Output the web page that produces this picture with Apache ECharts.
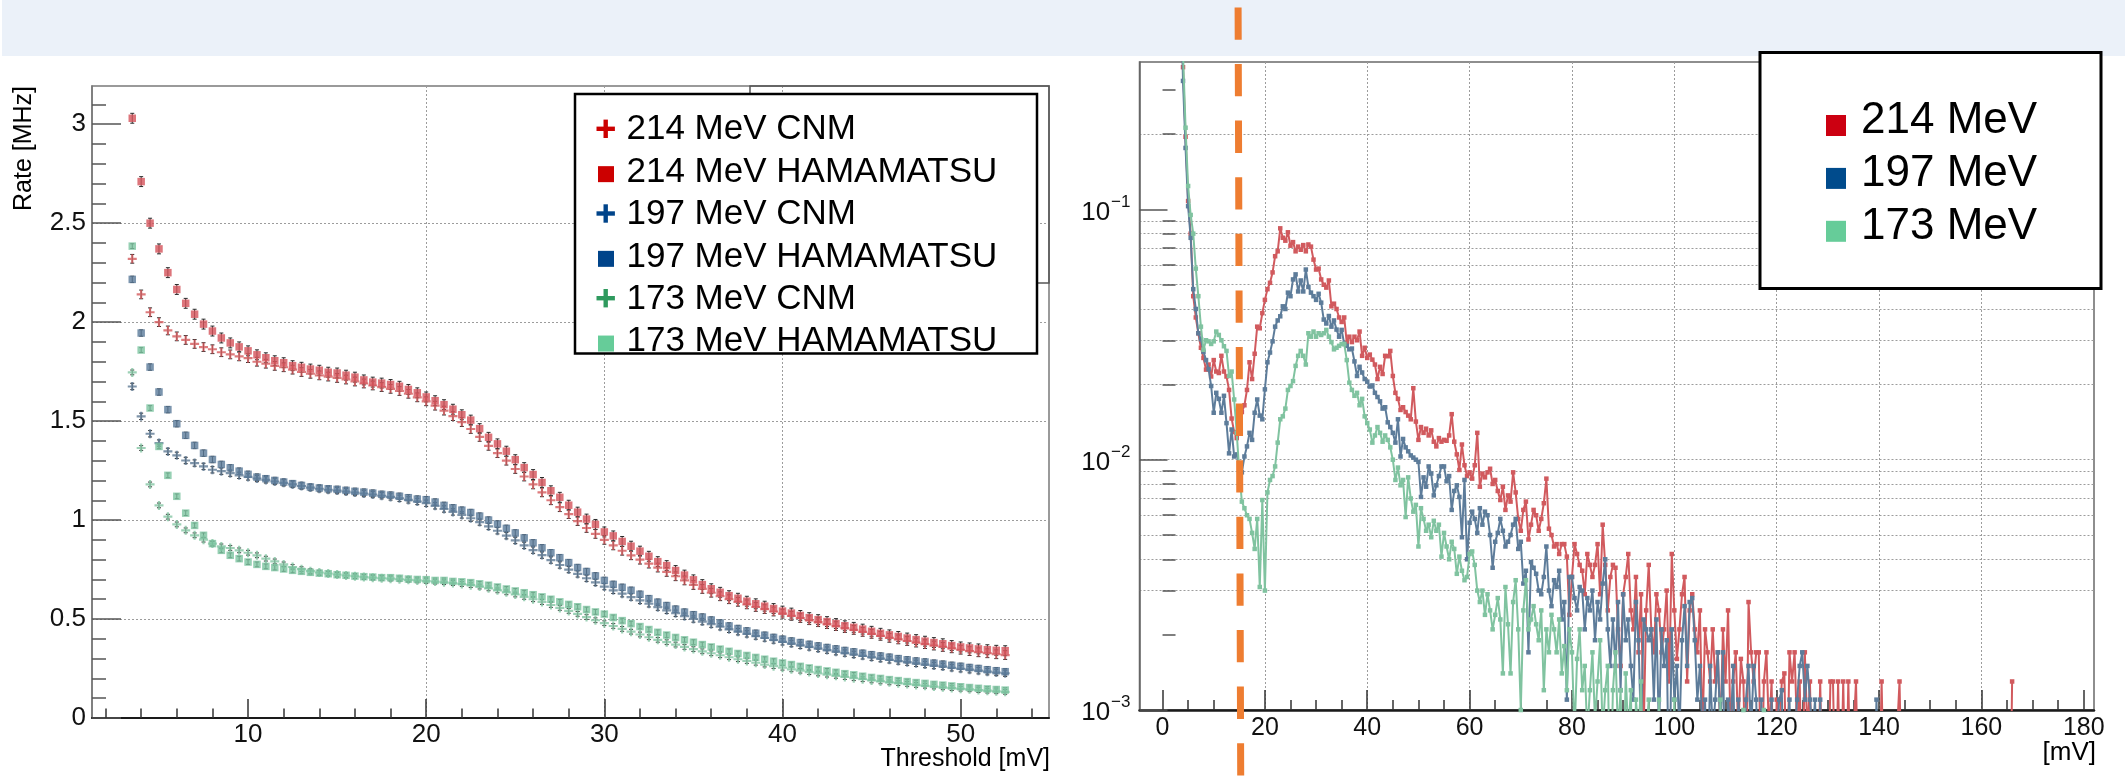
<!DOCTYPE html>
<html>
<head>
<meta charset="utf-8">
<script src="https://cdn.jsdelivr.net/npm/echarts@6/dist/echarts.min.js"></script>
<style>
  html, body { margin: 0; padding: 0; background: #ffffff; }
  #c { width: 2125px; height: 776px; }
</style>
</head>
<body>
<div id="c"></div>
<script>
// ---------- Left panel: counting rate vs. discriminator threshold ----------
const thresholds = [
  3.5, 4, 4.5, 5, 5.5, 6, 6.5, 7, 7.5, 8,
  8.5, 9, 9.5, 10, 10.5, 11, 11.5, 12, 12.5, 13,
  13.5, 14, 14.5, 15, 15.5, 16, 16.5, 17, 17.5, 18,
  18.5, 19, 19.5, 20, 20.5, 21, 21.5, 22, 22.5, 23,
  23.5, 24, 24.5, 25, 25.5, 26, 26.5, 27, 27.5, 28,
  28.5, 29, 29.5, 30, 30.5, 31, 31.5, 32, 32.5, 33,
  33.5, 34, 34.5, 35, 35.5, 36, 36.5, 37, 37.5, 38,
  38.5, 39, 39.5, 40, 40.5, 41, 41.5, 42, 42.5, 43,
  43.5, 44, 44.5, 45, 45.5, 46, 46.5, 47, 47.5, 48,
  48.5, 49, 49.5, 50, 50.5, 51, 51.5, 52, 52.5
];

const rate214Cnm = [
  2.32, 2.14, 2.05, 2.0, 1.958, 1.928, 1.91, 1.89, 1.874, 1.863,
  1.848, 1.837, 1.827, 1.818, 1.8, 1.79, 1.779, 1.772, 1.76, 1.748,
  1.739, 1.731, 1.725, 1.718, 1.71, 1.7, 1.69, 1.68, 1.672, 1.663,
  1.652, 1.638, 1.62, 1.6, 1.578, 1.553, 1.525, 1.495, 1.46, 1.42,
  1.375, 1.338, 1.3, 1.258, 1.22, 1.18, 1.14, 1.1, 1.065, 1.03,
  0.995, 0.96, 0.93, 0.9, 0.872, 0.845, 0.822, 0.8, 0.78, 0.76,
  0.738, 0.716, 0.695, 0.672, 0.652, 0.633, 0.615, 0.6, 0.587, 0.574,
  0.561, 0.55, 0.538, 0.527, 0.516, 0.505, 0.494, 0.484, 0.474, 0.464,
  0.454, 0.445, 0.435, 0.425, 0.415, 0.405, 0.397, 0.389, 0.381, 0.373,
  0.366, 0.359, 0.352, 0.345, 0.338, 0.332, 0.327, 0.322, 0.318
];
const rate214Ham = [
  3.03, 2.71, 2.50, 2.37, 2.25, 2.165, 2.095, 2.04, 1.99, 1.955,
  1.92, 1.895, 1.875, 1.855, 1.835, 1.82, 1.805, 1.795, 1.78, 1.772,
  1.763, 1.757, 1.747, 1.743, 1.732, 1.722, 1.708, 1.697, 1.692, 1.685,
  1.676, 1.66, 1.643, 1.622, 1.603, 1.583, 1.56, 1.532, 1.505, 1.462,
  1.418, 1.385, 1.348, 1.305, 1.265, 1.23, 1.19, 1.148, 1.115, 1.075,
  1.04, 1.005, 0.978, 0.94, 0.92, 0.892, 0.868, 0.843, 0.817, 0.79,
  0.77, 0.745, 0.722, 0.698, 0.674, 0.653, 0.635, 0.618, 0.605, 0.59,
  0.577, 0.565, 0.553, 0.54, 0.53, 0.518, 0.507, 0.497, 0.487, 0.477,
  0.466, 0.458, 0.449, 0.438, 0.428, 0.42, 0.412, 0.404, 0.396, 0.388,
  0.381, 0.375, 0.366, 0.359, 0.354, 0.349, 0.345, 0.342, 0.34
];
const rate197Cnm = [
  1.675, 1.524, 1.436, 1.389, 1.347, 1.327, 1.301, 1.288, 1.271, 1.254,
  1.247, 1.237, 1.226, 1.218, 1.21, 1.203, 1.195, 1.188, 1.18, 1.172,
  1.164, 1.158, 1.153, 1.149, 1.144, 1.139, 1.134, 1.129, 1.123, 1.117,
  1.11, 1.102, 1.094, 1.085, 1.072, 1.056, 1.041, 1.026, 1.009, 0.99,
  0.968, 0.946, 0.921, 0.897, 0.872, 0.848, 0.823, 0.798, 0.773, 0.75,
  0.728, 0.706, 0.685, 0.664, 0.645, 0.628, 0.611, 0.594, 0.577, 0.56,
  0.544, 0.529, 0.514, 0.5, 0.487, 0.474, 0.461, 0.448, 0.436, 0.425,
  0.414, 0.404, 0.394, 0.385, 0.376, 0.367, 0.359, 0.351, 0.343, 0.335,
  0.328, 0.321, 0.314, 0.307, 0.3, 0.294, 0.288, 0.282, 0.276, 0.27,
  0.265, 0.26, 0.254, 0.249, 0.244, 0.239, 0.234, 0.23, 0.226
];
const rate197Ham = [
  2.216, 1.945, 1.773, 1.647, 1.558, 1.487, 1.428, 1.377, 1.338, 1.306,
  1.281, 1.264, 1.247, 1.231, 1.217, 1.209, 1.2, 1.192, 1.184, 1.175,
  1.167, 1.162, 1.158, 1.155, 1.15, 1.145, 1.141, 1.136, 1.13, 1.126,
  1.12, 1.113, 1.106, 1.103, 1.091, 1.074, 1.062, 1.05, 1.038, 1.02,
  1.0, 0.98, 0.958, 0.935, 0.91, 0.885, 0.86, 0.835, 0.81, 0.785,
  0.76, 0.74, 0.718, 0.695, 0.675, 0.66, 0.645, 0.625, 0.603, 0.585,
  0.568, 0.55, 0.535, 0.522, 0.51, 0.495, 0.48, 0.465, 0.452, 0.44,
  0.428, 0.418, 0.407, 0.398, 0.389, 0.381, 0.372, 0.364, 0.356, 0.349,
  0.341, 0.334, 0.327, 0.32, 0.313, 0.307, 0.3, 0.294, 0.288, 0.283,
  0.277, 0.272, 0.266, 0.261, 0.255, 0.25, 0.244, 0.239, 0.234
];
const rate173Cnm = [
  1.746, 1.364, 1.18, 1.074, 1.017, 0.978, 0.948, 0.923, 0.901, 0.881,
  0.867, 0.859, 0.847, 0.835, 0.822, 0.805, 0.791, 0.776, 0.763, 0.752,
  0.742, 0.735, 0.73, 0.725, 0.72, 0.716, 0.712, 0.709, 0.706, 0.704,
  0.701, 0.698, 0.695, 0.692, 0.689, 0.686, 0.682, 0.677, 0.671, 0.664,
  0.655, 0.645, 0.635, 0.624, 0.612, 0.6, 0.586, 0.571, 0.556, 0.541,
  0.526, 0.51, 0.494, 0.479, 0.465, 0.45, 0.436, 0.422, 0.408, 0.395,
  0.383, 0.371, 0.359, 0.348, 0.337, 0.327, 0.317, 0.307, 0.297, 0.288,
  0.279, 0.27, 0.262, 0.254, 0.246, 0.239, 0.232, 0.225, 0.219, 0.213,
  0.207, 0.201, 0.196, 0.19, 0.185, 0.18, 0.176, 0.172, 0.167, 0.163,
  0.159, 0.155, 0.151, 0.148, 0.145, 0.141, 0.138, 0.135, 0.132
];
const rate173Ham = [
  2.384, 1.859, 1.566, 1.372, 1.226, 1.12, 1.035, 0.973, 0.923, 0.881,
  0.847, 0.822, 0.805, 0.788, 0.776, 0.766, 0.76, 0.753, 0.746, 0.741,
  0.736, 0.732, 0.729, 0.724, 0.721, 0.717, 0.714, 0.712, 0.709, 0.709,
  0.706, 0.702, 0.7, 0.699, 0.695, 0.695, 0.69, 0.688, 0.684, 0.678,
  0.671, 0.662, 0.652, 0.642, 0.633, 0.623, 0.612, 0.6, 0.587, 0.574,
  0.562, 0.548, 0.536, 0.525, 0.508, 0.492, 0.477, 0.462, 0.447, 0.433,
  0.419, 0.407, 0.395, 0.383, 0.371, 0.359, 0.348, 0.337, 0.326, 0.316,
  0.306, 0.297, 0.287, 0.278, 0.27, 0.261, 0.253, 0.245, 0.238, 0.231,
  0.224, 0.218, 0.211, 0.205, 0.2, 0.194, 0.189, 0.184, 0.179, 0.175,
  0.17, 0.166, 0.162, 0.158, 0.154, 0.15, 0.147, 0.144, 0.141
];

// statistical uncertainty of each rate point [MHz]
const err214Cnm = 0.022, err214Ham = 0.025;
const err197Cnm = 0.016, err197Ham = 0.016;
const err173Cnm = 0.012, err173Ham = 0.012;

const rateTicks = [0, 0.5, 1, 1.5, 2, 2.5, 3];
const rateMinorTicks = [0.1, 0.2, 0.3, 0.4, 0.6, 0.7, 0.8, 0.9, 1.1, 1.2, 1.3, 1.4,
  1.6, 1.7, 1.8, 1.9, 2.1, 2.2, 2.3, 2.4, 2.6, 2.7, 2.8, 2.9, 3.1];
const thresholdTicks = [10, 20, 30, 40, 50];
const thresholdMinorTicks = [2, 4, 6, 8, 12, 14, 16, 18, 22, 24, 26, 28, 32, 34, 36, 38,
  42, 44, 46, 48, 52, 54];

// ---------- Right panel: normalised pulse-amplitude spectra (0.5 mV bins) ----------
const binStart = 3.5, binWidth = 0.5;

const spec214 = [
  0.9, 0.37, 0.195, 0.108, 0.08, 0.045, 0.037, 0.032, 0.028, 0.0255,
  0.0229, 0.024, 0.0215, 0.025, 0.0225, 0.0222, 0.026, 0.0225, 0.0215, 0.019,
  0.0146, 0.0129, 0.0122, 0.0138, 0.0155, 0.0165, 0.019, 0.0245, 0.021, 0.0265,
  0.034, 0.0335, 0.0385, 0.0435, 0.048, 0.0509, 0.056, 0.065, 0.068, 0.084,
  0.077, 0.075, 0.081, 0.0716, 0.074, 0.068, 0.071, 0.069, 0.072, 0.068,
  0.0724, 0.071, 0.063, 0.0575, 0.058, 0.0525, 0.05, 0.0487, 0.052, 0.041,
  0.042, 0.04, 0.037, 0.0355, 0.037, 0.0293, 0.031, 0.0295, 0.031, 0.03,
  0.0325, 0.026, 0.028, 0.0255, 0.0263, 0.0251, 0.024, 0.021, 0.0235, 0.022,
  0.026, 0.0259, 0.0272, 0.0216, 0.0185, 0.0175, 0.0158, 0.0162, 0.0155, 0.015,
  0.0145, 0.0193, 0.0142, 0.012, 0.0135, 0.0128, 0.0133, 0.0125, 0.0131, 0.0118,
  0.0113, 0.0122, 0.0118, 0.012, 0.0119, 0.0125, 0.0152, 0.0118, 0.0105, 0.0091,
  0.0115, 0.0095, 0.0086, 0.0089, 0.0084, 0.0095, 0.0128, 0.0078, 0.0088, 0.0085,
  0.0089, 0.0092, 0.008, 0.0083, 0.0075, 0.0069, 0.0078, 0.0063, 0.0072, 0.0068,
  0.0089, 0.0074, 0.0058, 0.0052, 0.0063, 0.0068, 0.0048, 0.0055, 0.0063, 0.006,
  0.0052, 0.0058, 0.0067, 0.0084, 0.0053, 0.005, 0.0045, 0.0046, 0.0042, 0.0046,
  0.0046, 0.0041, 0.0024, 0.0034, 0.0046, 0.0042, 0.0038, 0.0036, 0.0029, 0.0042,
  0.0038, 0.0034, 0.0038, 0.0046, 0.0029, 0.0055, 0.0038, 0.0025, 0.0034, 0.0038,
  0.0037, 0.0021, 0.0015, 0.0029, 0.0034, 0.0042, 0.0025, 0.0021, 0.0034, 0.0017,
  0.0029, 0.0008, 0.0025, 0.0038, 0.0021, 0.0017, 0.0029, 0.0025, 0.0017, 0.0021,
  0.003, 0.0013, 0.0042, 0.0025, 0.0016, 0.0021, 0.0029, 0.0034, 0.0013, 0.0025,
  0.0029, 0.0021, 0.0017, 0.0025, 0.0008, 0.0021, 0.0017, 0.0013, 0.0021, 0.0013,
  0.0017, 0.0008, 0.0021, 0.0013, 0.0025, 0.0008, 0.0013, 0.0017, 0.0008, 0.0016,
  0.0013, 0.0004, 0.0027, 0.0017, 0.0013, 0.0017, 0.0017, 0.0004, 0.0013, 0.0017,
  0.0008, 0.0013, 0.0004, 0.0011, 0.0008, 0.0013, 0.0014, 0.0004, 0.0017, 0.0013,
  0.0017, 0.0008, 0.0013, 0.0004, 0.0017, 0.0008, 0.0013, 0.0004, 0.0008, 0.0004,
  0.0013, 0.0004, 0.0008, 0.0004, 0.0013, 0.0013, 0.0004, 0.0013, 0.0004, 0.0013,
  0.0004, 0.0013, 0.0004, 0.0008, 0.0013, 0.0004, 0.0008, 0.0004, 0.0004, 0.0008,
  0.0004, 0.0004, 0.0008, 0.0004, 0.0013, 0.0004, 0.0004, 0.0008, 0.0004, 0.0004,
  0.0008, 0.0013, 0.0004, 0.0004, 0.0002, 0.0002, 0.0004, 0.0002, 0.0002, 0.0002,
  0.0002, 0.0002, 0.0002, 0.0002, 0.0002, 0.0002, 0.0002, 0.0002, 0.0002, 0.0002,
  0.0002, 0.0004, 0.0002, 0.0002, 0.0002, 0.0002, 0.0002, 0.0004, 0.0002, 0.0002,
  0.0002, 0.0002, 0.0002, 0.0002, 0.0002, 0.0002, 0.0002, 0.0002, 0.0002, 0.0002,
  0.0002, 0.0002, 0.0004, 0.0002, 0.0002, 0.0013
];
const spec197 = [
  0.9, 0.326, 0.176, 0.103, 0.077, 0.048, 0.04, 0.032, 0.0303, 0.027,
  0.025, 0.023, 0.0197, 0.0154, 0.0185, 0.0175, 0.0154, 0.018, 0.014, 0.0106,
  0.0132, 0.0103, 0.0105, 0.0094, 0.0089, 0.0103, 0.0113, 0.0128, 0.012, 0.0154,
  0.0174, 0.015, 0.0145, 0.0191, 0.0245, 0.0268, 0.0297, 0.034, 0.036, 0.0374,
  0.041, 0.04, 0.0465, 0.045, 0.0525, 0.055, 0.047, 0.052, 0.047, 0.0575,
  0.049, 0.0465, 0.045, 0.0435, 0.046, 0.0424, 0.0363, 0.035, 0.0375, 0.034,
  0.036, 0.0331, 0.031, 0.033, 0.029, 0.0285, 0.0276, 0.0278, 0.0247, 0.0216,
  0.0235, 0.0223, 0.021, 0.0205, 0.0196, 0.0198, 0.0185, 0.0178, 0.0171, 0.016,
  0.0162, 0.0141, 0.0135, 0.0128, 0.0117, 0.0145, 0.0103, 0.0121, 0.0112, 0.0108,
  0.0104, 0.0102, 0.01, 0.0098, 0.0071, 0.0085, 0.0078, 0.0094, 0.0088, 0.0072,
  0.0079, 0.0086, 0.0094, 0.0094, 0.0082, 0.0086, 0.0063, 0.0075, 0.0079, 0.0071,
  0.0049, 0.0083, 0.004, 0.0056, 0.0062, 0.0058, 0.0051, 0.0064, 0.0055, 0.0062,
  0.006, 0.005, 0.0037, 0.0047, 0.0051, 0.0058, 0.0052, 0.0045, 0.0047, 0.005,
  0.0055, 0.0058, 0.0044, 0.0047, 0.0032, 0.0036, 0.0017, 0.0039, 0.0037, 0.0035,
  0.003, 0.0029, 0.0034, 0.0045, 0.003, 0.0026, 0.0033, 0.0031, 0.0036, 0.0023,
  0.0027, 0.0011, 0.0034, 0.0034, 0.0028, 0.0025, 0.0031, 0.003, 0.0021, 0.0028,
  0.0025, 0.003, 0.0019, 0.0027, 0.0023, 0.0032, 0.004, 0.0021, 0.0015, 0.0023,
  0.0015, 0.0027, 0.0012, 0.0029, 0.0019, 0.0023, 0.0015, 0.0011, 0.0027, 0.0019,
  0.0008, 0.0023, 0.0021, 0.0019, 0.0021, 0.0011, 0.0023, 0.0008, 0.0021, 0.0015,
  0.0019, 0.0004, 0.0021, 0.0011, 0.0015, 0.0008, 0.0019, 0.0026, 0.0015, 0.0027,
  0.0028, 0.0019, 0.0011, 0.0015, 0.0008, 0.0011, 0.0004, 0.0015, 0.0008, 0.0011,
  0.0017, 0.0008, 0.0017, 0.0004, 0.0011, 0.0008, 0.0015, 0.0004, 0.0011, 0.0008,
  0.0004, 0.0011, 0.0015, 0.0008, 0.0015, 0.0011, 0.0004, 0.0011, 0.0004, 0.0008,
  0.0004, 0.0011, 0.0004, 0.0008, 0.0011, 0.0012, 0.0004, 0.0008, 0.0011, 0.0004,
  0.0008, 0.0011, 0.0015, 0.0017, 0.0011, 0.0015, 0.0011, 0.0008, 0.0011, 0.0004,
  0.0011, 0.0004, 0.0002, 0.0004, 0.0002, 0.0002, 0.0004, 0.0002, 0.0002, 0.0002,
  0.0002, 0.0002, 0.0004, 0.0002, 0.0002, 0.0002, 0.0002, 0.0004, 0.0002, 0.0002,
  0.0002, 0.0004, 0.0011, 0.0004
];
const spec173 = [
  1.0, 0.42, 0.212, 0.124, 0.095, 0.08, 0.058, 0.045, 0.034, 0.0275,
  0.03, 0.0297, 0.029, 0.0297, 0.0325, 0.0315, 0.03, 0.0284, 0.0272, 0.0216,
  0.0225, 0.0174, 0.0128, 0.0089, 0.0068, 0.0064, 0.006, 0.0058, 0.0051, 0.0044,
  0.0058, 0.0031, 0.0069, 0.003, 0.0074, 0.0083, 0.0086, 0.0094, 0.0117, 0.0145,
  0.0149, 0.016, 0.019, 0.0197, 0.0206, 0.0237, 0.026, 0.0272, 0.026, 0.024,
  0.032, 0.031, 0.0325, 0.031, 0.032, 0.0315, 0.032, 0.033, 0.031, 0.0295,
  0.0276, 0.028, 0.0285, 0.029, 0.029, 0.025, 0.0203, 0.019, 0.018, 0.0185,
  0.0165, 0.0175, 0.0149, 0.014, 0.0132, 0.0117, 0.0125, 0.0135, 0.0128, 0.0118,
  0.0125, 0.012, 0.0112, 0.01, 0.0083, 0.0093, 0.0079, 0.0083, 0.0059, 0.0085,
  0.007, 0.0062, 0.0066, 0.0045, 0.0064, 0.0058, 0.0052, 0.0055, 0.0049, 0.0057,
  0.0052, 0.0055, 0.0041, 0.0051, 0.0045, 0.004, 0.0047, 0.0044, 0.0035, 0.0041,
  0.0036, 0.0033, 0.0034, 0.0042, 0.0043, 0.0038, 0.003, 0.0027, 0.003, 0.0024,
  0.0029, 0.0025, 0.0021, 0.0024, 0.0028, 0.0023, 0.0014, 0.0031, 0.0022, 0.0014,
  0.0027, 0.0033, 0.0021, 0.001, 0.0025, 0.0033, 0.0021, 0.0023, 0.0026, 0.0022,
  0.0019, 0.0025, 0.0012, 0.0021, 0.0017, 0.0024, 0.0021, 0.0017, 0.0023, 0.0014,
  0.0018, 0.0012, 0.0021, 0.0017, 0.0008, 0.0016, 0.0021, 0.0012, 0.0015, 0.0008,
  0.0012, 0.0017, 0.0009, 0.0013, 0.0019, 0.0008, 0.0012, 0.0015, 0.0004, 0.0012,
  0.0017, 0.0008, 0.0012, 0.0004, 0.0014, 0.0008, 0.0012, 0.0004, 0.0011, 0.0008,
  0.0013, 0.0004, 0.0008, 0.0011, 0.0004, 0.0008, 0.0004, 0.0011, 0.0004, 0.0008,
  0.0004, 0.0008, 0.0004, 0.0011, 0.0004, 0.0002, 0.0004, 0.0008, 0.0004, 0.0002,
  0.0004, 0.0002, 0.0004, 0.0008, 0.0004, 0.0002, 0.0004, 0.0002, 0.0002, 0.0004,
  0.0002, 0.0011, 0.0004, 0.0002, 0.0002, 0.0004, 0.0002, 0.0002, 0.0004, 0.0002,
  0.001, 0.0004, 0.0002, 0.0002, 0.0004, 0.0002, 0.0002, 0.0004, 0.001, 0.0004
];

const amplitudeTicks = [0, 20, 40, 60, 80, 100, 120, 140, 160, 180];
const amplitudeMinorTicks = [5, 10, 15, 25, 30, 35, 45, 50, 55, 65, 70, 75, 85, 90, 95,
  105, 110, 115, 125, 130, 135, 145, 150, 155, 165, 170, 175];
const fractionTicks = [0.001, 0.01, 0.1];
const fractionMinorTicks = [0.002, 0.003, 0.004, 0.005, 0.006, 0.007, 0.008, 0.009,
  0.02, 0.03, 0.04, 0.05, 0.06, 0.07, 0.08, 0.09, 0.2, 0.3];

const cutThreshold = 15; // mV, chosen discriminator setting

const rateNames = ['214 MeV CNM', '214 MeV HAMAMATSU', '197 MeV CNM',
  '197 MeV HAMAMATSU', '173 MeV CNM', '173 MeV HAMAMATSU'];
const spectrumNames = ['214 MeV', '197 MeV', '173 MeV'];

// ---------- styling ----------
const FONT = '"Liberation Sans", Arial, Helvetica, sans-serif';
const gridDots = { show: true, showMinLine: false, showMaxLine: false,
  lineStyle: { color: '#9c9c9c', width: 1, type: [2, 2] } };
const CROSS = 'path://M3.8,0H6.2V3.8H10V6.2H6.2V10H3.8V6.2H0V3.8H3.8Z';

const rateColors = ['#d45a5c', '#d4525a', '#5f7a95', '#5a7a9a', '#84c5a4', '#7cc4a0'];
const legendColors = ['#cc0000', '#cc0000', '#00448a', '#00448a', '#2f9a5e', '#66cc99'];
const spectrumColors = ['#d15a5e', '#5d7c9a', '#80c3a0'];
const spectrumLegendColors = ['#cc0011', '#004b8c', '#66cc99'];

const pairs = (xs, ys) => ys.map((v, i) => [xs[i], v]);
const binned = ys => ys.map((v, i) => [binStart + i * binWidth, v]);

function errorBars(ys, err) {
  return {
    type: 'custom', xAxisIndex: 0, yAxisIndex: 0, silent: true, animation: false, z: 2,
    data: ys.map((v, i) => [thresholds[i], v, err]),
    encode: { x: 0, y: 1 },
    renderItem(params, api) {
      const x = api.value(0), y = api.value(1), e = api.value(2);
      const hi = api.coord([x, y + e]);
      const lo = api.coord([x, y - e]);
      const c = 2;
      const st = { stroke: '#2b2b2b', lineWidth: 1 };
      return { type: 'group', children: [
        { type: 'line', shape: { x1: hi[0], y1: hi[1], x2: lo[0], y2: lo[1] }, style: st },
        { type: 'line', shape: { x1: hi[0] - c, y1: hi[1], x2: hi[0] + c, y2: hi[1] }, style: st },
        { type: 'line', shape: { x1: lo[0] - c, y1: lo[1], x2: lo[0] + c, y2: lo[1] }, style: st }
      ] };
    }
  };
}

function rateMarkers(idx, ys, isCross) {
  return {
    type: 'scatter', name: rateNames[idx], xAxisIndex: 0, yAxisIndex: 0,
    data: pairs(thresholds, ys), silent: true, animation: false, z: 3 + idx,
    symbol: isCross ? CROSS : 'rect', symbolSize: isCross ? 9 : 7.5,
    itemStyle: { color: rateColors[idx] }
  };
}

function spectrumLine(idx, ys) {
  return {
    type: 'line', name: spectrumNames[idx], xAxisIndex: 2, yAxisIndex: 2,
    data: binned(ys), clip: true, silent: true, animation: false, z: 3 + idx,
    symbol: 'rect', symbolSize: 4.5, showSymbol: true,
    lineStyle: { color: spectrumColors[idx], width: 2 },
    itemStyle: { color: spectrumColors[idx] }
  };
}

const chart = echarts.init(document.getElementById('c'), null, { renderer: 'canvas', width: 2125, height: 776 });

const option = {
  animation: false,
  backgroundColor: '#ffffff',
  textStyle: { fontFamily: FONT },
  grid: [
    { left: 92, top: 86, width: 957, height: 632, show: true, borderColor: '#7a7a7a', borderWidth: 1.5 },
    { left: 1139.5, top: 62, width: 954.5, height: 648, show: true, borderColor: '#6a6a6a', borderWidth: 1.5 }
  ],
  xAxis: [
    { // threshold axis, major ticks and labels
      type: 'value', gridIndex: 0, min: 1.24, max: 54.96, minInterval: 10, maxInterval: 10,
      axisLine: { show: true, onZero: false, lineStyle: { color: '#1a1a1a', width: 2 } },
      axisTick: { show: true, inside: true, length: 19, customValues: thresholdTicks, lineStyle: { color: '#333', width: 1.5 } },
      axisLabel: { customValues: thresholdTicks, fontSize: 26, color: '#111', margin: 4, fontFamily: FONT },
      splitLine: gridDots
    },
    { // threshold axis, minor ticks
      type: 'value', gridIndex: 0, min: 1.24, max: 54.96, position: 'bottom',
      axisLine: { show: false },
      axisTick: { show: true, inside: true, length: 9.5, customValues: thresholdMinorTicks, lineStyle: { color: '#333', width: 1.5 } },
      axisLabel: { show: false }, splitLine: { show: false }
    },
    { // amplitude axis, major ticks and labels
      type: 'value', gridIndex: 1, min: -4.5, max: 182, minInterval: 20, maxInterval: 20,
      axisLine: { show: true, onZero: false, lineStyle: { color: '#1a1a1a', width: 2.5 } },
      axisTick: { show: true, inside: true, length: 20, customValues: amplitudeTicks, lineStyle: { color: '#333', width: 1.5 } },
      axisLabel: { customValues: amplitudeTicks, fontSize: 25, color: '#111', margin: 6, fontFamily: FONT },
      splitLine: gridDots
    },
    { // amplitude axis, minor ticks
      type: 'value', gridIndex: 1, min: -4.5, max: 182, position: 'bottom',
      axisLine: { show: false },
      axisTick: { show: true, inside: true, length: 10, customValues: amplitudeMinorTicks, lineStyle: { color: '#333', width: 1.5 } },
      axisLabel: { show: false }, splitLine: { show: false }
    }
  ],
  yAxis: [
    { // rate axis, major ticks and labels
      type: 'value', gridIndex: 0, min: 0, max: 3.193, interval: 0.5,
      axisLine: { show: true, onZero: false, lineStyle: { color: '#777', width: 1.5 } },
      axisTick: { show: true, inside: true, length: 29, customValues: rateTicks, lineStyle: { color: '#555', width: 1.5 } },
      axisLabel: { customValues: rateTicks, fontSize: 26, color: '#111', margin: 6, fontFamily: FONT },
      splitLine: gridDots
    },
    { // rate axis, minor ticks
      type: 'value', gridIndex: 0, min: 0, max: 3.193, position: 'left',
      axisLine: { show: false },
      axisTick: { show: true, inside: true, length: 14, customValues: rateMinorTicks, lineStyle: { color: '#555', width: 1.5 } },
      axisLabel: { show: false }, splitLine: { show: false }
    },
    { // spectrum axis (log), decades
      type: 'log', logBase: 10, gridIndex: 1, min: 0.001, max: 0.388,
      axisLine: { show: true, onZero: false, lineStyle: { color: '#666', width: 1.5 } },
      axisTick: { show: true, inside: true, length: 28, customValues: fractionTicks, lineStyle: { color: '#555', width: 1.5 } },
      axisLabel: {
        customValues: fractionTicks, margin: 9, color: '#111',
        formatter: v => '{b|10}{s|\u2212' + Math.round(-Math.log10(v)) + '}',
        rich: {
          b: { fontSize: 26, fontFamily: FONT, color: '#111', padding: [6, 0, 0, 0] },
          s: { fontSize: 17, fontFamily: FONT, color: '#111', verticalAlign: 'top', padding: [0, 0, 0, 1] }
        }
      },
      splitLine: gridDots
    },
    { // spectrum axis (log), sub-decade ticks and grid
      type: 'log', logBase: 10, gridIndex: 1, min: 0.001, max: 0.388, position: 'left',
      axisLine: { show: false },
      axisTick: { show: true, inside: true, length: 13, customValues: fractionMinorTicks, lineStyle: { color: '#555', width: 1.5 } },
      axisLabel: { show: false },
      splitLine: gridDots
    }
  ],
  series: [
    errorBars(rate214Cnm, err214Cnm), rateMarkers(0, rate214Cnm, true),
    errorBars(rate214Ham, err214Ham), rateMarkers(1, rate214Ham, false),
    errorBars(rate197Cnm, err197Cnm), rateMarkers(2, rate197Cnm, true),
    errorBars(rate197Ham, err197Ham), rateMarkers(3, rate197Ham, false),
    errorBars(rate173Cnm, err173Cnm), rateMarkers(4, rate173Cnm, true),
    errorBars(rate173Ham, err173Ham), rateMarkers(5, rate173Ham, false),
    spectrumLine(0, spec214), spectrumLine(1, spec197), spectrumLine(2, spec173)
  ]
};
chart.setOption(option);

// ---------- annotations: titles, legends, header band, threshold marker ----------
function txt(text, x, y, size, align, extra) {
  return Object.assign({
    type: 'text', x, y, silent: true,
    style: { text, fill: '#000', font: size + 'px ' + FONT, fontSize: size, fontFamily: FONT,
      align, textAlign: align, verticalAlign: 'middle', textVerticalAlign: 'middle' }
  }, extra || {});
}

const g = [];
// header band
g.push({ type: 'rect', z: 0, silent: true, shape: { x: 2, y: 0, width: 2123, height: 56 }, style: { fill: '#ebf1f9' } });

// axis titles
g.push(txt('Rate [MHz]', 24, 86, 25, 'right', { rotation: Math.PI / 2, z: 50 }));
g.push(txt('Threshold [mV]', 1050, 759, 25, 'right', { z: 50 }));
g.push(txt('[mV]', 2096, 753, 26, 'right', { z: 50 }));

// box partly hidden behind the rate legend
g.push({ type: 'rect', z: 55, silent: true, shape: { x: 750, y: 86, width: 299, height: 197 },
  style: { fill: 'none', stroke: '#555', lineWidth: 1.5 } });

// rate legend
const lx = 575, ly = 94, lw = 462, lh = 259.5;
g.push({ type: 'rect', z: 60, silent: true, shape: { x: lx, y: ly, width: lw, height: lh }, style: { fill: '#fff' } });
const rowY0 = 128.8, rowDy = 42.35;
rateNames.forEach((name, i) => {
  const cy = rowY0 + i * rowDy;
  const cross = i % 2 === 0;
  if (cross) {
    g.push({ type: 'rect', z: 61, silent: true, shape: { x: 596.5, y: cy - 2.2, width: 18.4, height: 4.4 }, style: { fill: legendColors[i] } });
    g.push({ type: 'rect', z: 61, silent: true, shape: { x: 603.5, y: cy - 9.2, width: 4.4, height: 18.4 }, style: { fill: legendColors[i] } });
  } else {
    g.push({ type: 'rect', z: 61, silent: true, shape: { x: 598, y: cy - 5, width: 16, height: 16 }, style: { fill: legendColors[i] } });
  }
  g.push(txt(name, 626.5, cy + 1, 35, 'left', { z: 61 }));
});
g.push({ type: 'rect', z: 62, silent: true, shape: { x: lx, y: ly, width: lw, height: lh },
  style: { fill: 'none', stroke: '#000', lineWidth: 2.5 } });

// spectrum legend
const rx = 1760, ry = 52.5, rw = 341, rh = 236;
g.push({ type: 'rect', z: 60, silent: true, shape: { x: rx, y: ry, width: rw, height: rh },
  style: { fill: '#fff', stroke: '#000', lineWidth: 3 } });
spectrumNames.forEach((name, i) => {
  const cy = 120 + i * 52.9;
  g.push({ type: 'rect', z: 61, silent: true, shape: { x: 1826, y: cy - 5, width: 20, height: 21 }, style: { fill: spectrumLegendColors[i] } });
  g.push(txt(name, 1861, cy + 1, 44, 'left', { z: 61 }));
});

// discriminator threshold marker, positioned through the amplitude axis
const xCut = chart.convertToPixel({ xAxisIndex: 2 }, cutThreshold);
g.push({ type: 'line', z: 70, silent: true,
  shape: { x1: xCut - 1.2, y1: 7.4, x2: xCut + 1.4, y2: 776 },
  style: { stroke: '#ee7d31', lineWidth: 7, lineDash: [32.3, 24.3], lineCap: 'butt' } });

chart.setOption({ graphic: { elements: g } });
</script>
</body>
</html>
